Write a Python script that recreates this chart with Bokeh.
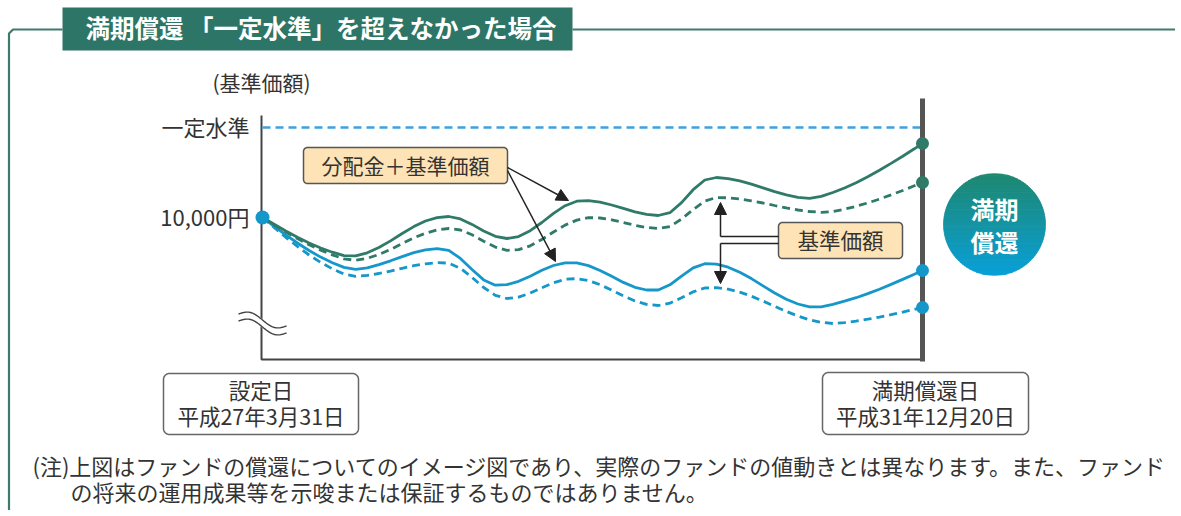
import math
from bokeh.plotting import figure
from bokeh.models import Range1d, Arrow, NormalHead
from bokeh.core.properties import value
from bokeh.embed import file_html
from bokeh.resources import INLINE

FONT = value("Noto Sans CJK JP")

# ---------------- data ----------------
# months after 設定日 (平成27年3月31日) up to 満期償還日 (平成31年12月20日)
months = list(range(57)) + [56.7]
# scenario A (green): 分配金+基準価額 (solid) and 基準価額 (dashed)
dist_plus_nav_a = [10000, 9932, 9865, 9803, 9745, 9695, 9653, 9619, 9616, 9647,
                   9700, 9766, 9840, 9909, 9965, 9999, 10010, 9986, 9931, 9865,
                   9812, 9790, 9809, 9868, 9950, 10042, 10118, 10163, 10168, 10154,
                   10125, 10091, 10057, 10032, 10020, 10048, 10149, 10278, 10375, 10400,
                   10389, 10366, 10334, 10297, 10259, 10226, 10202, 10191, 10211, 10250,
                   10295, 10348, 10407, 10472, 10541, 10612, 10687, 10740]
nav_a = [10000, 9927, 9856, 9789, 9727, 9673, 9626, 9587, 9572, 9592,
         9630, 9680, 9739, 9796, 9843, 9876, 9890, 9875, 9827, 9762,
         9704, 9672, 9678, 9717, 9781, 9855, 9924, 9974, 9999, 9995,
         9977, 9950, 9922, 9900, 9890, 9910, 9984, 10080, 10165, 10200,
         10197, 10185, 10167, 10145, 10120, 10096, 10075, 10060, 10051, 10059,
         10083, 10112, 10146, 10184, 10226, 10270, 10317, 10350]
# scenario B (blue): 分配金+基準価額 (solid) and 基準価額 (dashed)
dist_plus_nav_b = [10000, 9912, 9826, 9745, 9670, 9604, 9548, 9501, 9482, 9497,
                   9528, 9567, 9609, 9648, 9676, 9689, 9672, 9591, 9480, 9376,
                   9323, 9328, 9362, 9413, 9472, 9520, 9547, 9546, 9519, 9470,
                   9412, 9351, 9302, 9275, 9275, 9327, 9413, 9496, 9538, 9533,
                   9503, 9452, 9389, 9316, 9245, 9182, 9135, 9106, 9107, 9132,
                   9163, 9198, 9239, 9283, 9331, 9381, 9433, 9470]
nav_b = [10000, 9900, 9802, 9711, 9625, 9551, 9487, 9434, 9411, 9421,
         9440, 9464, 9492, 9518, 9537, 9548, 9544, 9492, 9401, 9300,
         9222, 9190, 9204, 9244, 9297, 9348, 9382, 9389, 9370, 9328,
         9274, 9216, 9165, 9131, 9120, 9143, 9197, 9257, 9295, 9298,
         9283, 9254, 9213, 9165, 9112, 9061, 9015, 8977, 8952, 8940,
         8949, 8964, 8983, 9004, 9028, 9054, 9081, 9100]
level_value = 10900          # 一定水準
start_value = 10000          # 10,000円
tick_values = [10900, 10000]
tick_labels = ["一定水準", "10,000円"]

title_text = "満期償還 「一定水準」を超えなかった場合"
y_title = "(基準価額)"
box_dist = "分配金＋基準価額"
box_nav = "基準価額"
start_lines = ["設定日", "平成27年3月31日"]
end_lines = ["満期償還日", "平成31年12月20日"]
badge_lines = ["満期", "償還"]
note_lines = ["(注)上図はファンドの償還についてのイメージ図であり、実際のファンドの値動きとは異なります。また、ファンド",
              "の将来の運用成果等を示唆または保証するものではありません。"]

# ---------------- styles ----------------
GREEN = "#2f7a68"
BLUE = "#1597c9"
LEVEL_BLUE = "#3ea0e2"
PEACH = "#fde3b6"
BANNER = "#2d7566"
FRAME = "#3e7b6c"
AXIS = "#444444"
TEXT = "#333333"

W, H = 1175, 510
PX0, PXPM = 262.0, 11.64     # layout: pixel of month 0, pixels per month
PY0, YPP = 217.0, 10.0       # layout: pixel of 10,000円, yen per pixel
TY = -1.5                    # text baseline nudge (pixels)


def X(px):
    return (px - PX0) / PXPM


def Y(py):
    return 10000 + (PY0 - py) * YPP


p = figure(width=W, height=H,
           x_range=Range1d(X(0), X(W)), y_range=Range1d(Y(H), Y(0)),
           output_backend="svg", toolbar_location=None, min_border=0,
           x_axis_location=None, y_axis_location=None)
p.grid.visible = False
p.outline_line_color = None
p.background_fill_color = "white"
p.border_fill_color = "white"


def rrect(x0, y0, x1, y1, r, n=8):
    pts = []
    for (cx, cy, a0) in [(x0 + r, y0 + r, 180), (x1 - r, y0 + r, 270),
                         (x1 - r, y1 - r, 0), (x0 + r, y1 - r, 90)]:
        for k in range(n + 1):
            a = math.radians(a0 + 90 * k / n)
            pts.append((cx + r * math.cos(a), cy + r * math.sin(a)))
    return [X(a) for a, b in pts], [Y(b) for a, b in pts]


def txt(xs, ys, texts, size, color=TEXT, align="center", style="normal"):
    p.text(x=[X(v) for v in xs], y=[Y(v + TY) for v in ys], text=texts,
           text_font=FONT, text_font_size=size, text_color=color,
           text_align=align, text_baseline="middle", text_font_style=style)


# outer frame + title banner
p.line([X(8.5), X(8.5), X(12.5), X(62)], [Y(520), Y(33), Y(29), Y(29)], line_color=FRAME, line_width=2.2)
p.line([X(572), X(1185)], [Y(29), Y(29)], line_color=FRAME, line_width=2.2)
p.quad(left=[X(62)], right=[X(572)], top=[Y(7)], bottom=[Y(50)], fill_color=BANNER, line_color=None)
txt([85], [28], [title_text], "24.5px", color="white", align="left", style="bold")

# axis labels
txt([261], [83], [y_title], "21px")
p.text(x=[X(249)] * 2, y=[v - TY * YPP for v in tick_values], text=tick_labels, text_font=FONT,
       text_font_size="22px", text_color=TEXT, text_align="right", text_baseline="middle")

# axes
p.line([X(261), X(261), X(922)], [Y(115), Y(359), Y(359)], line_color=AXIS, line_width=2)

# axis break mark
cx_ = [238 + 48 * t / 24 for t in range(25)]
cy_ = [317 + 12 * (t / 24) - 4.5 * math.sin(2 * math.pi * t / 24) for t in range(25)]
p.line([X(v) for v in cx_], [Y(v) for v in cy_], line_color="white", line_width=7)
for off in (-3.5, 3.5):
    p.line([X(v) for v in cx_], [Y(v + off) for v in cy_], line_color=AXIS, line_width=1.4)

# 一定水準 line
p.line([months[0], months[-1]], [level_value, level_value], line_color=LEVEL_BLUE,
       line_width=2.5, line_dash="8 5")

# data lines
p.line(months, nav_b, line_color=BLUE, line_width=2.8, line_dash="8 5")
p.line(months, dist_plus_nav_b, line_color=BLUE, line_width=2.8)
p.line(months, nav_a, line_color=GREEN, line_width=2.8, line_dash="8 5")
p.line(months, dist_plus_nav_a, line_color=GREEN, line_width=2.8)

# right maturity line
p.line([X(922), X(922)], [Y(98), Y(361)], line_color="#555555", line_width=5)

# dots
p.scatter(x=[months[-1]] * 4, y=[dist_plus_nav_a[-1], nav_a[-1], dist_plus_nav_b[-1], nav_b[-1]],
          size=13, fill_color=[GREEN, GREEN, BLUE, BLUE], line_color=None)
p.scatter(x=[months[0]], y=[start_value], size=14, fill_color=BLUE, line_color=None)

# label boxes
bx, by = rrect(303, 147, 507, 183, 4)
p.patch(bx, by, fill_color=PEACH, line_color="#555555", line_width=1.5)
txt([405], [165.5], [box_dist], "21px")
bx, by = rrect(778, 222, 902, 258, 4)
p.patch(bx, by, fill_color=PEACH, line_color="#555555", line_width=1.5)
txt([840], [240], [box_nav], "21.5px")

# arrows
AR = "#222222"
for (x0, y0, x1, y1) in [(507, 167, 568, 200), (507, 170, 555, 261), (720, 236, 720, 202), (720, 243, 720, 283)]:
    p.add_layout(Arrow(end=NormalHead(size=12, fill_color=AR, line_color=AR, line_width=1),
                       x_start=X(x0), y_start=Y(y0), x_end=X(x1), y_end=Y(y1),
                       line_color=AR, line_width=1.5))
p.line([X(778), X(720)], [Y(236), Y(236)], line_color=AR, line_width=1.5)
p.line([X(778), X(720)], [Y(243), Y(243)], line_color=AR, line_width=1.5)

# maturity badge (vertical gradient circle)
ccx, ccy, R = 994.0, 224.0, 51.0
N = 60
c_top = (0x1f, 0x88, 0x70)
c_bot = (0x0a, 0xa0, 0xd8)
xs_l, ys_l, cols = [], [], []
for i in range(N):
    ya = ccy - R + 2 * R * i / N
    yb = min(ccy + R, ya + 2 * R / N + 0.6)
    ptsx, ptsy = [], []
    for k in range(5):
        yy = ya + (yb - ya) * k / 4
        ptsx.append(ccx + math.sqrt(max(R * R - (yy - ccy) ** 2, 0)))
        ptsy.append(yy)
    for k in range(5):
        yy = yb - (yb - ya) * k / 4
        ptsx.append(ccx - math.sqrt(max(R * R - (yy - ccy) ** 2, 0)))
        ptsy.append(yy)
    f = i / (N - 1)
    col = "#%02x%02x%02x" % tuple(int(round(c_top[j] + (c_bot[j] - c_top[j]) * f)) for j in range(3))
    xs_l.append([X(v) for v in ptsx])
    ys_l.append([Y(v) for v in ptsy])
    cols.append(col)
p.patches(xs_l, ys_l, fill_color=cols, line_color=cols, line_width=0.5)
txt([994, 994], [209, 242], badge_lines, "24px", color="white", style="bold")

# date boxes
bx, by = rrect(163, 373, 358, 434, 6)
p.patch(bx, by, fill_color="white", line_color="#666666", line_width=1.5)
txt([260.5, 260.5], [390, 416], start_lines, "21.5px")
bx, by = rrect(822, 372, 1028, 434, 6)
p.patch(bx, by, fill_color="white", line_color="#666666", line_width=1.5)
txt([925, 925], [390, 416], end_lines, "21.5px")

# footnote
txt([32], [466], [note_lines[0]], "22px", align="left")
txt([70], [492], [note_lines[1]], "22px", align="left")

open("out.html", "w").write(file_html(p, INLINE))
